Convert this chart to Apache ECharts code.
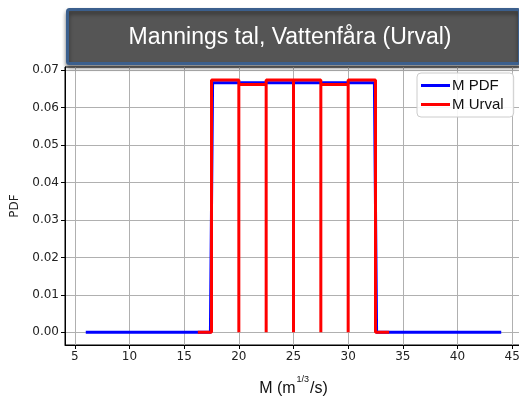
<!DOCTYPE html>
<html>
<head>
<meta charset="utf-8">
<script src="https://cdn.jsdelivr.net/npm/echarts@6/dist/echarts.min.js"></script>
<style>
  html, body { margin: 0; padding: 0; background: #fff; }
  #chart { width: 519px; height: 396px; }
</style>
</head>
<body>
<div id="chart"></div>
<script>
// Uniform PDF of Manning's number M (1/15 between 17.5 and 32.5)
const pdfX = [6, 17.4, 17.6, 32.4, 32.6, 44];
const pdfY = [0, 0, 0.0667, 0.0667, 0, 0];

// Sampled values (Urval): bin edges and normalised heights
const binEdges = [17.5, 20, 22.5, 25, 27.5, 30, 32.5];
const binHeights = [0.0674, 0.0662, 0.0674, 0.0674, 0.0662, 0.0674];
const padLeft = 16.25;
const padRight = 33.75;

const xTicks = [5, 10, 15, 20, 25, 30, 35, 40, 45];
const yTicks = [0, 0.01, 0.02, 0.03, 0.04, 0.05, 0.06, 0.07];

const titleText = 'Mannings tal, Vattenfåra (Urval)';

// Build the outline of the sampled histogram as a polyline
const urval = [[padLeft, 0]];
for (let i = 0; i < binHeights.length; i++) {
  urval.push([binEdges[i], 0]);
  urval.push([binEdges[i], binHeights[i]]);
  urval.push([binEdges[i + 1], binHeights[i]]);
  urval.push([binEdges[i + 1], 0]);
}
urval.push([padRight, 0]);

const pdf = pdfX.map((x, i) => [x, pdfY[i]]);

const chart = echarts.init(document.getElementById('chart'), null, { renderer: 'canvas' });

const tickFont = { fontFamily: 'DejaVu Sans', fontSize: 12, color: '#222' };

chart.setOption({
  animation: false,
  backgroundColor: '#fff',
  grid: {
    left: 65, top: 67, width: 457, height: 278,
    outerBoundsMode: 'none',
    containLabel: false,
    show: true, borderColor: '#000', borderWidth: 1, backgroundColor: 'transparent'
  },
  xAxis: {
    type: 'value',
    min: 4.1, max: 45.9,
    axisLine: { show: true, onZero: false, lineStyle: { color: '#000', width: 1 } },
    axisTick: { show: true, length: 4, inside: false, customValues: xTicks, lineStyle: { color: '#000' } },
    axisLabel: { customValues: xTicks, margin: 6, ...tickFont },
    splitLine: { show: true, lineStyle: { color: '#b0b0b0', width: 1 } },
    name: 'M (m{sup|1/3}/s)',
    nameLocation: 'middle',
    nameGap: 30,
    nameTextStyle: {
      fontFamily: 'Liberation Sans', fontSize: 16, color: '#111',
      rich: { sup: { fontFamily: 'Liberation Sans', fontSize: 9, color: '#111', verticalAlign: 'top', padding: [0, 1, 19, 1] } }
    }
  },
  yAxis: {
    type: 'value',
    min: -0.003375, max: 0.070875,
    axisLine: { show: true, onZero: false, lineStyle: { color: '#000', width: 1 } },
    axisTick: { show: true, length: 4, inside: false, customValues: yTicks, lineStyle: { color: '#000' } },
    axisLabel: { customValues: yTicks, margin: 6, formatter: v => v.toFixed(2), ...tickFont },
    splitLine: { show: true, lineStyle: { color: '#b0b0b0', width: 1 } },
    name: 'PDF',
    nameLocation: 'middle',
    nameRotate: 90,
    nameGap: 44,
    nameTextStyle: { fontFamily: 'DejaVu Sans', fontSize: 12, color: '#222' }
  },
  legend: {
    left: 417, top: 73,
    orient: 'vertical',
    backgroundColor: 'rgba(255,255,255,0.9)',
    borderColor: '#ccc', borderWidth: 1, borderRadius: 4,
    padding: [5, 10, 5, 4],
    itemGap: 4,
    itemWidth: 29, itemHeight: 3,
    icon: 'rect',
    textStyle: { fontFamily: 'Liberation Sans', fontSize: 15, color: '#111', padding: [0, 0, 0, -3] },
    data: ['M PDF', 'M Urval']
  },
  series: [
    {
      name: 'M PDF', type: 'line', data: pdf, showSymbol: false,
      lineStyle: { color: '#0000ff', width: 3 }, itemStyle: { color: '#0000ff' }, z: 2
    },
    {
      name: 'M Urval', type: 'line', data: urval, showSymbol: false,
      lineStyle: { color: '#ff0000', width: 3 }, itemStyle: { color: '#ff0000' }, z: 3
    }
  ],
  graphic: [
    {
      type: 'rect', left: 66, top: 8, z: 100,
      shape: { width: 452, height: 54, r: 2 },
      style: {
        fill: '#555555', stroke: '#3b5f8d', lineWidth: 3,
        shadowBlur: 4, shadowOffsetY: 3, shadowColor: 'rgba(0,0,0,0.45)'
      }
    },
    {
      type: 'text', z: 101,
      x: 290, y: 38,
      style: {
        text: titleText, fill: '#fff',
        font: '23px "Liberation Sans", Arial, sans-serif',
        align: 'center', verticalAlign: 'middle'
      }
    }
  ]
});
</script>
</body>
</html>
